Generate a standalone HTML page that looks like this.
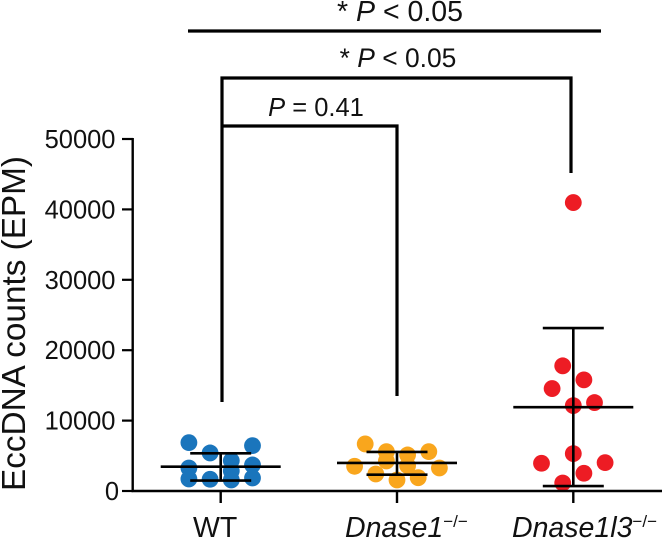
<!DOCTYPE html>
<html>
<head>
<meta charset="utf-8">
<style>
html,body{margin:0;padding:0;background:#fff;width:663px;height:540px;overflow:hidden}
svg{display:block;font-family:"Liberation Sans",sans-serif;fill:#111}
</style>
</head>
<body>
<svg id="chart" width="663" height="540" viewBox="0 0 663 540" xmlns="http://www.w3.org/2000/svg">
  <g id="marks"></g>
  <g id="axes"></g>
  <text transform="translate(25,323.5) rotate(-90)" text-anchor="middle" font-size="33.3">EccDNA counts (EPM)</text>
  <g id="xlabels" font-size="28.5">
    <text x="193" y="537">WT</text>
    <text x="345" y="537"><tspan font-style="italic">Dnase1</tspan><tspan font-size="17" dy="-10">−/−</tspan></text>
    <text x="512" y="537"><tspan font-style="italic">Dnase1l3</tspan><tspan font-size="17" dy="-10">−/−</tspan></text>
  </g>
  <g fill="none" stroke="#000" stroke-width="3.2">
    <line x1="188" y1="31" x2="601" y2="31"/>
    <path d="M222 402V78H571V173"/>
    <path d="M222 126H397V396"/>
  </g>
  <g text-anchor="middle">
    <text x="400" y="21" font-size="28.5">* <tspan font-style="italic">P</tspan> &lt; 0.05</text>
    <text x="398" y="67" font-size="26.4">* <tspan font-style="italic">P</tspan> &lt; 0.05</text>
    <text x="316" y="116" font-size="25.5"><tspan font-style="italic">P</tspan> = 0.41</text>
  </g>
</svg>
<script>
const tickLabels = [0, 10000, 20000, 30000, 40000, 50000];
const categories = ['WT', 'Dnase1', 'Dnase1l3'];
const wtValues = [6870, 5405, 6444, 3270, 4310, 3700, 1707, 1664, 2845, 1565, 1850];
const wtSlots = [-3, -1, 3, -3, 1, 3, -3, -1, 1, 1, 3];
const dnase1Values = [6685, 5590, 5120, 5590, 3510, 4270, 3600, 3270, 2420, 1565, 1890];
const dnase1Slots = [-3, -1, 1, 3, -4, -1, 1, 4, -2, 0, 2];
const dnase1l3Values = [40970, 17780, 15790, 14550, 12560, 12130, 5310, 3940, 4030, 2520, 1140];
const dnase1l3Slots = [0, -1, 1, -2, 2, 0, 0, -3, 3, 1, -1];
const means = [3450, 3980, 11900];
const upperSD = [5350, 5550, 23140];
const lowerSD = [1480, 2320, 700];

const NS = 'http://www.w3.org/2000/svg';
const marks = document.getElementById('marks');
const axes = document.getElementById('axes');
const colors = ['#1a75bc', '#f9a61d', '#ed1c24'];
const allValues = [wtValues, dnase1Values, dnase1l3Values];
const allSlots = [wtSlots, dnase1Slots, dnase1l3Slots];

function yScale(v) { return 491 - v * (352 / 50000); }
function xScale(i) { return 220.7 + i * 176.3; }
function slotX(i, s) { return xScale(i) + s * 10.6; }

function line(parent, x1, y1, x2, y2, w) {
  const l = document.createElementNS(NS, 'line');
  l.setAttribute('x1', x1);
  l.setAttribute('y1', y1);
  l.setAttribute('x2', x2);
  l.setAttribute('y2', y2);
  l.setAttribute('stroke', '#000');
  l.setAttribute('stroke-width', w);
  parent.appendChild(l);
  return l;
}

categories.forEach(function (cat, i) {
  const key = cat.toLowerCase();
  allValues[i].forEach(function (v, j) {
    const c = document.createElementNS(NS, 'circle');
    
    
    c.setAttribute('cx', slotX(i, allSlots[i][j]));
    c.setAttribute('cy', yScale(v));
    c.setAttribute('r', 8.4);
    c.setAttribute('fill', colors[i]);
    marks.appendChild(c);
  });
});

categories.forEach(function (cat, i) {
  const key = cat.toLowerCase();
  const x = xScale(i);
  const meanLine = line(marks, x - 60, yScale(means[i]), x + 60, yScale(means[i]), 2.6);
  
  
  const stem = line(marks, x, yScale(upperSD[i]), x, yScale(lowerSD[i]), 2.6);
  
  
  const upCap = line(marks, x - 30.5, yScale(upperSD[i]), x + 30.5, yScale(upperSD[i]), 2.6);
  
  
  const lowCap = line(marks, x - 30.5, yScale(lowerSD[i]), x + 30.5, yScale(lowerSD[i]), 2.6);
  
  
  const tick = line(axes, x, 491, x, 503, 2.4);
  
  
});

const yAxis = line(axes, 132.7, yScale(50000) - 1, 132.7, 492, 2.4);


const xAxis = line(axes, 131.5, 491, 662, 491, 2.4);



tickLabels.forEach(function (v) {
  const y = yScale(v);
  const t = line(axes, 122, y, 133, y, 2.2);
  
  
  const label = document.createElementNS(NS, 'text');
  
  
  label.setAttribute('x', v === 0 ? 119 : 115.5);
  label.setAttribute('y', y + 9);
  label.setAttribute('text-anchor', 'end');
  label.setAttribute('font-size', '25.5');
  label.textContent = v;
  axes.appendChild(label);
});
</script>
</body>
</html>
